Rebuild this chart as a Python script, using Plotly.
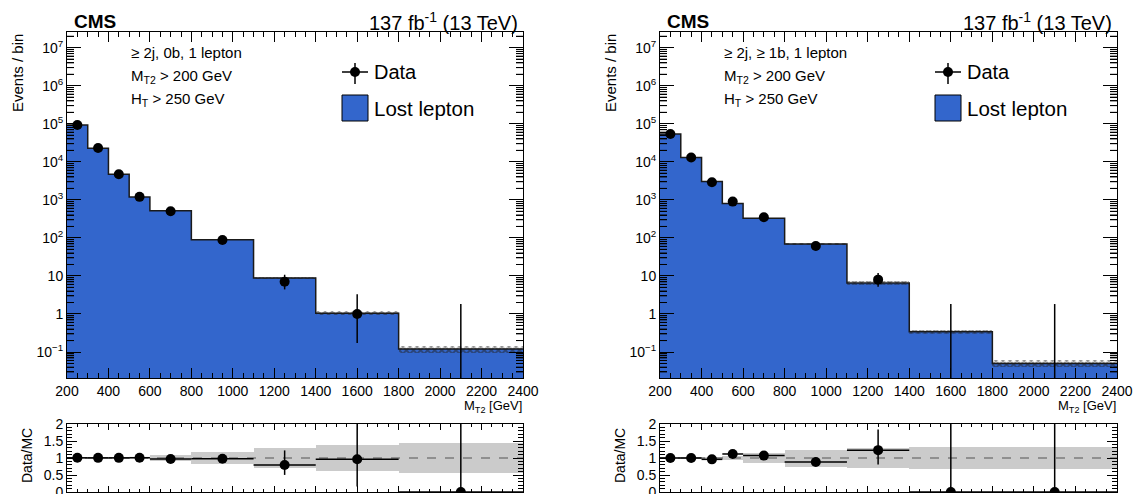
import numpy as np
import plotly.graph_objects as go

# ---------------- data ----------------
bin_edges = [200, 300, 400, 500, 600, 800, 1100, 1400, 1800, 2400]

# >= 2j, 0b, 1 lepton
data_0b = [93000, 23000, 4700, 1200, 500, 88, 7, 1, 0]
mc_0b = [92500, 22900, 4680, 1190, 515, 90, 8.8, 1.04, 0.12]
hatch_0b = [0.005, 0.01, 0.015, 0.02, 0.03, 0.05, 0.08, 0.12, 0.22]
syst_0b = [0.01, 0.02, 0.03, 0.04, 0.08, 0.17, 0.29, 0.39, 0.43]

# >= 2j, >= 1b, 1 lepton
data_1b = [54000, 13000, 2900, 900, 350, 61, 8, 0, 0]
mc_1b = [54000, 13000, 3020, 805, 327, 69, 6.5, 0.34, 0.05]
hatch_1b = [0.005, 0.01, 0.015, 0.03, 0.04, 0.06, 0.1, 0.12, 0.2]
syst_1b = [0.01, 0.02, 0.03, 0.05, 0.14, 0.25, 0.28, 0.33, 0.33]

labels_0b = ["≥ 2j, 0b, 1 lepton", "M<sub>T2</sub> > 200 GeV", "H<sub>T</sub> > 250 GeV"]
labels_1b = ["≥ 2j, ≥ 1b, 1 lepton", "M<sub>T2</sub> > 200 GeV", "H<sub>T</sub> > 250 GeV"]

# tick label text for the log axis (plotly default label -> displayed label)
y_label_alias = {
    "0.1": "10<sup>−1</sup>", "100": "10<sup>2</sup>", "1000": "10<sup>3</sup>",
    "1,000": "10<sup>3</sup>",
    "10000": "10<sup>4</sup>", "100000": "10<sup>5</sup>", "1000000": "10<sup>6</sup>",
    "10000000": "10<sup>7</sup>",
    "10,000": "10<sup>4</sup>", "100,000": "10<sup>5</sup>", "1,000,000": "10<sup>6</sup>",
    "10,000,000": "10<sup>7</sup>",
    "10k": "10<sup>4</sup>", "100k": "10<sup>5</sup>", "1M": "10<sup>6</sup>",
    "10M": "10<sup>7</sup>",
}

# ---------------- style ----------------
W, H = 1134, 494
FONT = "Liberation Sans, Arial, Helvetica, sans-serif"
BLUE = "#3366cc"
BAND = "#cbcbcb"
XRANGE = [200, 2400]
YLOG = [-1.683, 7.413]


def px(x):
    return x / W


def py(y):
    return 1 - y / H


def garwood(n):
    n = np.asarray(n, float)
    nn = np.maximum(n, 1)
    lo = np.where(n > 0, n * (1 - 1 / (9 * nn) - 1 / (3 * np.sqrt(nn))) ** 3, 0.0)
    up = (n + 1) * (1 - 1 / (9 * (n + 1)) + 1 / (3 * np.sqrt(n + 1))) ** 3
    return lo, up


edges = np.array(bin_edges, float)
centers = 0.5 * (edges[1:] + edges[:-1])
widths = edges[1:] - edges[:-1]

fig = go.Figure()

panels = [
    dict(data=data_0b, mc=mc_0b, hatch=hatch_0b, syst=syst_0b, labels=labels_0b,
         x0=67, x1=523, xm="x", ym="y", xr="x2", yr="y2"),
    dict(data=data_1b, mc=mc_1b, hatch=hatch_1b, syst=syst_1b, labels=labels_1b,
         x0=660, x1=1117, xm="x3", ym="y3", xr="x4", yr="y4"),
]

annotations = []
shapes = []
minor_log = [k * 10.0 ** n for n in range(-2, 8) for k in range(2, 10)
             if YLOG[0] < np.log10(k * 10.0 ** n) < YLOG[1]]

for p in panels:
    d = np.array(p["data"], float)
    mc = np.array(p["mc"], float)
    hat = np.array(p["hatch"], float)
    syst = np.array(p["syst"], float)
    lo, up = garwood(d)
    x0, x1 = p["x0"], p["x1"]
    off = x0 - 67
    fw = x1 - x0

    # MC histogram fill
    fig.add_trace(go.Bar(x=centers, y=mc, width=widths, marker_color=BLUE,
                         marker_line_width=0, xaxis=p["xm"], yaxis=p["ym"],
                         showlegend=False, hoverinfo="skip"))
    # MC uncertainty hatch
    fig.add_trace(go.Bar(x=centers, y=mc * 2 * hat, base=mc * (1 - hat), width=widths,
                         marker=dict(color="rgba(0,0,0,0)", line_width=0,
                                     pattern=dict(shape="x", fgcolor="#222222", size=5,
                                                  solidity=0.6, fillmode="overlay")),
                         xaxis=p["xm"], yaxis=p["ym"], showlegend=False, hoverinfo="skip"))
    # step outline
    fig.add_trace(go.Scatter(x=edges, y=np.append(mc, mc[-1]), mode="lines",
                             line=dict(color="#1a1a1a", width=1.5, shape="hv"),
                             xaxis=p["xm"], yaxis=p["ym"], showlegend=False, hoverinfo="skip"))
    # minor ticks of the log axis on both sides (axis decoration)
    dx = 7.0 / fw * (XRANGE[1] - XRANGE[0])
    tx, ty = [], []
    for v in minor_log:
        tx += [XRANGE[0], XRANGE[0] + dx, None, XRANGE[1] - dx, XRANGE[1], None]
        ty += [v, v, None, v, v, None]
    fig.add_trace(go.Scatter(x=tx, y=ty, mode="lines", line=dict(color="black", width=1),
                             xaxis=p["xm"], yaxis=p["ym"], showlegend=False,
                             hoverinfo="skip"))
    # data (non-zero)
    nz = d > 0
    fig.add_trace(go.Scatter(x=centers[nz], y=d[nz], mode="markers",
                             marker=dict(color="black", size=10),
                             error_y=dict(type="data", symmetric=False, array=(up - d)[nz],
                                          arrayminus=(d - lo)[nz], color="black",
                                          thickness=1.5, width=0),
                             xaxis=p["xm"], yaxis=p["ym"], showlegend=False))
    # data (zero): only the upper error bar is visible on log scale
    for c, u in zip(centers[~nz], up[~nz]):
        fig.add_trace(go.Scatter(x=[c, c], y=[10 ** YLOG[0], u], mode="lines",
                                 line=dict(color="black", width=1.5),
                                 xaxis=p["xm"], yaxis=p["ym"], showlegend=False,
                                 hoverinfo="skip"))

    # ratio band
    fig.add_trace(go.Bar(x=centers, y=2 * syst, base=1 - syst, width=widths,
                         marker_color=BAND, marker_line_width=0,
                         xaxis=p["xr"], yaxis=p["yr"], showlegend=False, hoverinfo="skip"))
    fig.add_trace(go.Scatter(x=XRANGE, y=[1, 1], mode="lines",
                             line=dict(color="#555555", width=1.2, dash="dash"),
                             xaxis=p["xr"], yaxis=p["yr"], showlegend=False, hoverinfo="skip"))
    ratio = d / mc
    fig.add_trace(go.Scatter(x=centers, y=ratio, mode="markers",
                             marker=dict(color="black", size=10),
                             error_y=dict(type="data", symmetric=False, array=(up - d) / mc,
                                          arrayminus=(d - lo) / mc, color="black",
                                          thickness=1.5, width=0),
                             error_x=dict(type="data", array=widths / 2, color="black",
                                          thickness=1.5, width=0),
                             xaxis=p["xr"], yaxis=p["yr"], showlegend=False))

    # texts
    annotations += [
        dict(x=px(x0 + 5), y=py(21), xref="paper", yref="paper", text="<b>CMS</b>",
             showarrow=False, xanchor="left", yanchor="middle",
             font=dict(family=FONT, size=19, color="black")),
        dict(x=px(x1 - 3), y=py(22), xref="paper", yref="paper",
             text="137 fb<sup>-1</sup> (13 TeV)", showarrow=False, xanchor="right",
             yanchor="middle", font=dict(family=FONT, size=20, color="black")),
        dict(x=px(18 + off), y=py(32), xref="paper", yref="paper", text="Events / bin",
             showarrow=False, textangle=-90, xanchor="center", yanchor="top",
             font=dict(family=FONT, size=15, color="black")),
        dict(x=px(27 + off), y=py(456), xref="paper", yref="paper", text="Data/MC",
             showarrow=False, textangle=-90, xanchor="center", yanchor="middle",
             font=dict(family=FONT, size=14, color="black")),
        dict(x=px(x1 + 1), y=py(406), xref="paper", yref="paper", text="M<sub>T2</sub> [GeV]",
             showarrow=False, xanchor="right", yanchor="middle",
             font=dict(family=FONT, size=13, color="black")),
        dict(x=px(372 + off), y=py(72), xref="paper", yref="paper", text="Data",
             showarrow=False, xanchor="left", yanchor="middle",
             font=dict(family=FONT, size=20, color="black")),
        dict(x=px(372 + off), y=py(108), xref="paper", yref="paper", text="Lost lepton",
             showarrow=False, xanchor="left", yanchor="middle",
             font=dict(family=FONT, size=20.5, color="black")),
    ]
    for t, yy in zip(p["labels"], [52, 76, 99]):
        annotations.append(dict(x=px(129 + off), y=py(yy), xref="paper", yref="paper", text=t,
                                showarrow=False, xanchor="left", yanchor="middle",
                                font=dict(family=FONT, size=15, color="black")))
    # legend symbols
    shapes += [
        dict(type="line", xref="paper", yref="paper", x0=px(342 + off), x1=px(368 + off),
             y0=py(72), y1=py(72), line=dict(color="black", width=1.5)),
        dict(type="line", xref="paper", yref="paper", x0=px(355 + off), x1=px(355 + off),
             y0=py(63), y1=py(84), line=dict(color="black", width=1.5)),
        dict(type="circle", xref="paper", yref="paper", xsizemode="pixel", ysizemode="pixel",
             xanchor=px(355 + off), yanchor=py(72), x0=-5, x1=5, y0=-5, y1=5,
             fillcolor="black", line=dict(color="black", width=0)),
        dict(type="rect", xref="paper", yref="paper", x0=px(342 + off), x1=px(368 + off),
             y0=py(95), y1=py(121), fillcolor=BLUE, line=dict(color="black", width=1)),
    ]

axis_common = dict(showline=True, linecolor="black", linewidth=1, mirror="ticks",
                   ticks="inside", tickcolor="black", tickwidth=1, showgrid=False,
                   zeroline=False, automargin=False, ticklabeloverflow="allow",
                   tickfont=dict(family=FONT, size=14, color="black"))


def main_x(domain, anchor):
    return dict(axis_common, domain=domain, anchor=anchor, range=XRANGE,
                tickmode="linear", tick0=200, dtick=200, ticklen=10,
                minor=dict(ticks="inside", ticklen=5, dtick=50, tick0=200,
                           tickcolor="black", showgrid=False))


def main_y(domain, anchor):
    return dict(axis_common, domain=domain, anchor=anchor, type="log", range=YLOG,
                tickmode="linear", tick0=0, dtick=1, exponentformat="none",
                separatethousands=False,
                labelalias=y_label_alias, ticklen=14,
                minor=dict(ticks="inside", ticklen=7, dtick="D1", tickcolor="black",
                           tickwidth=1, showgrid=False))


def ratio_x(domain, anchor):
    return dict(axis_common, domain=domain, anchor=anchor, range=XRANGE,
                tickmode="linear", tick0=200, dtick=200, ticklen=6, showticklabels=False,
                minor=dict(ticks="inside", ticklen=3, dtick=50, tick0=200,
                           tickcolor="black", showgrid=False))


def ratio_y(domain, anchor):
    return dict(axis_common, domain=domain, anchor=anchor, range=[0, 2],
                tickmode="linear", tick0=0, dtick=0.5, ticklen=10,
                minor=dict(ticks="inside", ticklen=5, dtick=0.1, tick0=0,
                           tickcolor="black", showgrid=False))


ydom_main = [py(378), py(32)]
ydom_ratio = [py(492), py(424)]
xdom_l = [px(67), px(523)]
xdom_r = [px(660), px(1117)]

fig.update_layout(
    template="none",
    width=W, height=H, autosize=False,
    margin=dict(l=0, r=0, t=0, b=0, pad=0),
    paper_bgcolor="white", plot_bgcolor="white",
    barmode="overlay", bargap=0,
    showlegend=False,
    font=dict(family=FONT, color="black"),
    xaxis=main_x(xdom_l, "y"), yaxis=main_y(ydom_main, "x"),
    xaxis2=ratio_x(xdom_l, "y2"), yaxis2=ratio_y(ydom_ratio, "x2"),
    xaxis3=main_x(xdom_r, "y3"), yaxis3=main_y(ydom_main, "x3"),
    xaxis4=ratio_x(xdom_r, "y4"), yaxis4=ratio_y(ydom_ratio, "x4"),
    annotations=annotations, shapes=shapes,
)

fig.write_html("out.html")
